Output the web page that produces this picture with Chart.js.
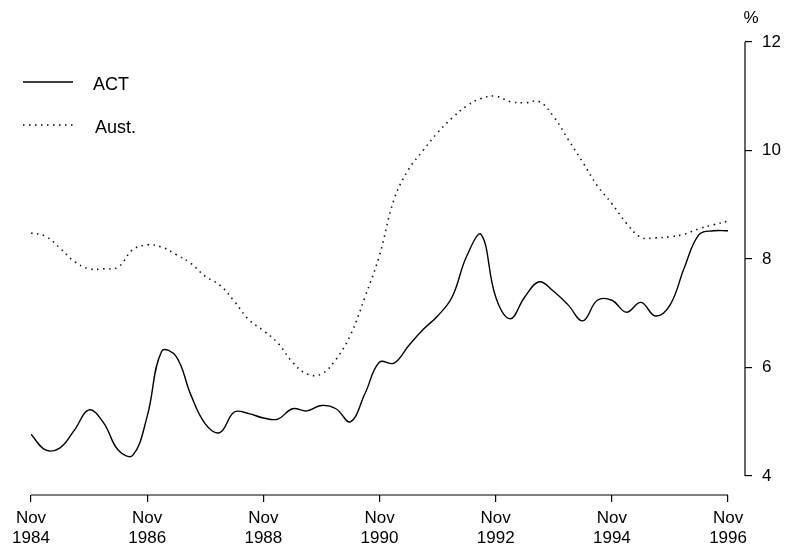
<!DOCTYPE html>
<html>
<head>
<meta charset="utf-8">
<title>ACT and Australia</title>
<script src="https://cdn.jsdelivr.net/npm/chart.js@4.4.1/dist/chart.umd.min.js"></script>
<style>
    body { margin: 0; background: #fff; }
    canvas { display: block; }
</style>
</head>
<body>
<canvas id="myChart" width="786" height="550"></canvas>
<script>
// months after Nov 1984, one point per quarter
const quarterMonths = [0, 3, 6, 9, 12, 15, 18, 21, 24, 27, 30, 33, 36, 39, 42, 45, 48, 51, 54, 57, 60, 63, 66, 69, 72,
    75, 78, 81, 84, 87, 90, 93, 96, 99, 102, 105, 108, 111, 114, 117, 120, 123, 126, 129, 132, 135, 138, 141, 144];

const actValues = [4.77, 4.48, 4.52, 4.85, 5.22, 4.98, 4.48, 4.38, 5.10, 6.30, 6.20, 5.50, 4.96, 4.80, 5.18, 5.15,
    5.07, 5.05, 5.24, 5.20, 5.30, 5.24, 5.00, 5.52, 6.10, 6.08, 6.40, 6.70, 6.95, 7.30, 8.05, 8.45, 7.30, 6.90,
    7.30, 7.58, 7.40, 7.15, 6.86, 7.24, 7.24, 7.02, 7.20, 6.95, 7.15, 7.85, 8.45, 8.52, 8.52];

const austValues = [8.48, 8.42, 8.20, 7.95, 7.82, 7.82, 7.85, 8.17, 8.26, 8.22, 8.08, 7.92, 7.68, 7.52, 7.22, 6.88,
    6.68, 6.45, 6.10, 5.88, 5.88, 6.15, 6.60, 7.30, 8.07, 9.10, 9.65, 10.00, 10.33, 10.60, 10.82, 10.96, 11.00,
    10.90, 10.88, 10.90, 10.62, 10.20, 9.78, 9.35, 9.02, 8.66, 8.40, 8.39, 8.41, 8.46, 8.56, 8.63, 8.70];

const xTickMonths = [0, 24, 48, 72, 96, 120, 144];
const xTickYears = ["1984", "1986", "1988", "1990", "1992", "1994", "1996"];
const yTicks = [4, 6, 8, 10, 12];

const font = { family: "'Liberation Sans', Arial, Helvetica, sans-serif", size: 17 };

function points(values) {
    return quarterMonths.map((m, i) => ({ x: m, y: values[i] }));
}

// axis lines, legend and the % unit
const extras = {
    id: "extras",
    afterDraw(chart) {
        const { ctx, chartArea } = chart;
        const x = chart.scales.x;
        const y = chart.scales.y;
        ctx.save();
        ctx.strokeStyle = "#000";
        ctx.lineWidth = 1.2;
        ctx.beginPath();
        ctx.moveTo(x.getPixelForValue(0), chartArea.bottom);
        ctx.lineTo(x.getPixelForValue(144), chartArea.bottom);
        ctx.stroke();
        ctx.beginPath();
        ctx.moveTo(chartArea.right, y.getPixelForValue(12));
        ctx.lineTo(chartArea.right, y.getPixelForValue(4));
        ctx.stroke();

        ctx.fillStyle = "#000";
        ctx.font = "17px 'Liberation Sans', Arial, sans-serif";
        ctx.textBaseline = "middle";
        ctx.textAlign = "center";
        ctx.fillText("%", chartArea.right + 6, 18);

        ctx.font = "18px 'Liberation Sans', Arial, sans-serif";
        ctx.textAlign = "left";
        ctx.lineWidth = 1.4;
        ctx.beginPath();
        ctx.moveTo(23, 82);
        ctx.lineTo(73, 82);
        ctx.stroke();
        ctx.fillText("ACT", 93, 85);
        ctx.setLineDash([1.5, 4.5]);
        ctx.lineWidth = 1.6;
        ctx.beginPath();
        ctx.moveTo(23, 125);
        ctx.lineTo(73, 125);
        ctx.stroke();
        ctx.fillText("Aust.", 95, 128);
        ctx.restore();
    }
};

Chart.defaults.color = "#000";

const ctx = document.getElementById("myChart");
const myChart = new Chart(ctx, {
    type: "line",
    data: {
        datasets: [{
            label: "ACT",
            data: points(actValues),
            borderColor: "#000",
            borderWidth: 1.4,
            pointRadius: 0,
            tension: 0.4,
            fill: false,
        }, {
            label: "Aust.",
            data: points(austValues),
            borderColor: "#111",
            borderWidth: 1.6,
            borderDash: [1.5, 4.5],
            pointRadius: 0,
            tension: 0.4,
            fill: false,
        }],
    },
    options: {
        responsive: false,
        animation: false,
        layout: { padding: { top: 42, left: 31, right: 0, bottom: 0 } },
        plugins: {
            legend: { display: false },
            tooltip: { enabled: false },
        },
        scales: {
            x: {
                type: "linear",
                min: 0,
                max: 147.5,
                afterBuildTicks: (s) => { s.ticks = xTickMonths.map((v) => ({ value: v })); },
                afterFit: (s) => { s.height = 55; },
                border: { display: false },
                grid: { drawOnChartArea: false, tickLength: 7, color: "#000", lineWidth: 1.2 },
                ticks: {
                    maxRotation: 0,
                    autoSkip: false,
                    padding: 6,
                    font: { ...font, lineHeight: 1.18 },
                    callback: (v) => ["Nov", xTickYears[xTickMonths.indexOf(v)]],
                },
            },
            y: {
                position: "right",
                min: 3.65,
                max: 12,
                afterBuildTicks: (s) => { s.ticks = yTicks.map((v) => ({ value: v })); },
                afterFit: (s) => { s.width = 41; },
                border: { display: false },
                grid: { drawOnChartArea: false, tickLength: 7, color: "#000", lineWidth: 1.2 },
                ticks: { padding: 10, font: font },
            },
        },
    },
    plugins: [extras],
});
</script>
</body>
</html>
